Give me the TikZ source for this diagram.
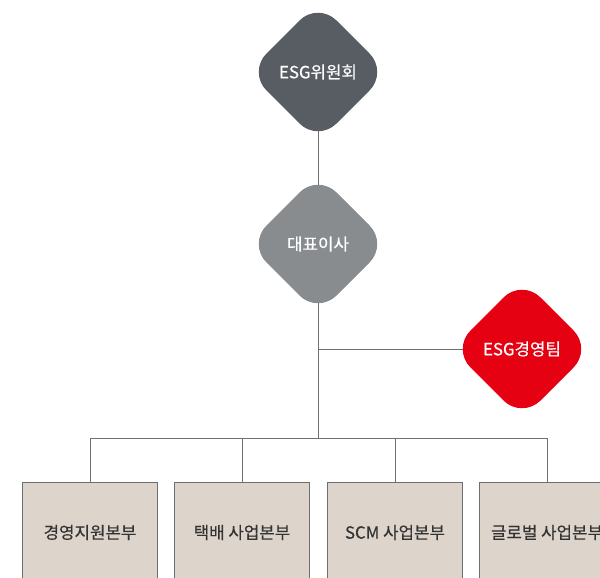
\documentclass[tikz,border=0pt]{standalone}
\usepackage{fontspec}
\setmainfont{Noto Sans CJK KR}[FakeBold=0.4,UprightFont=*,BoldFont=*]
\usetikzlibrary{shapes.geometric,backgrounds}
\definecolor{boardgray}{HTML}{575D63}
\definecolor{ceogray}{HTML}{898C8E}
\definecolor{teamred}{HTML}{E50012}
\definecolor{unitfill}{HTML}{DDD5CB}
\definecolor{unitline}{HTML}{6E6E6E}
\definecolor{unittext}{HTML}{333333}
\definecolor{linegray}{HTML}{707070}
\begin{document}
\begin{tikzpicture}[x=1pt, y=-1pt, every node/.style={font=\fontsize{16.8}{20}\selectfont\bfseries},
  rdiamond/.style={diamond,aspect=1,minimum width=140pt,minimum height=140pt,inner sep=0pt,outer sep=0pt,rounded corners=26pt,text=white},
  unit/.style={draw=unitline,fill=unitfill,line width=0.8pt,minimum width=135pt,minimum height=100pt,inner sep=0pt,anchor=north,text=unittext},
  link/.style={draw=linegray,line width=0.9pt}]
  \useasboundingbox (0,0) rectangle (600,578);
  \clip (0,0) rectangle (600,578);
  % committee, ceo, team
  \node[rdiamond,fill=boardgray] (board) at (318,72) {ESG위원회};
  \node[rdiamond,fill=ceogray]   (ceo)   at (318,244) {대표이사};
  \node[rdiamond,fill=teamred]   (team)  at (522,349) {ESG경영팀};
  % junctions
  \coordinate (tj) at (318,349);
  \coordinate (bus) at (318,438);
  \coordinate (b1) at (90,438);
  \coordinate (b2) at (242,438);
  \coordinate (b3) at (395,438);
  \coordinate (b4) at (547,438);
  % divisions
  \node[unit] (u1) at (90,482)  {경영지원본부};
  \node[unit] (u2) at (242,482) {택배 사업본부};
  \node[unit] (u3) at (395,482) {SCM 사업본부};
  \node[unit] (u4) at (547,482) {글로벌 사업본부};
  \begin{pgfonlayer}{background}
    \draw[link] (board.center) -- (ceo.center);
    \draw[link] (ceo.center) -- (bus);
    \draw[link] (tj) -- (team.center);
  \end{pgfonlayer}
  \draw[link] (b1) -- (b4);
  \draw[link] (b1) -- (u1.north); \draw[link] (b2) -- (u2.north);
  \draw[link] (b3) -- (u3.north); \draw[link] (b4) -- (u4.north);
\end{tikzpicture}
\end{document}
